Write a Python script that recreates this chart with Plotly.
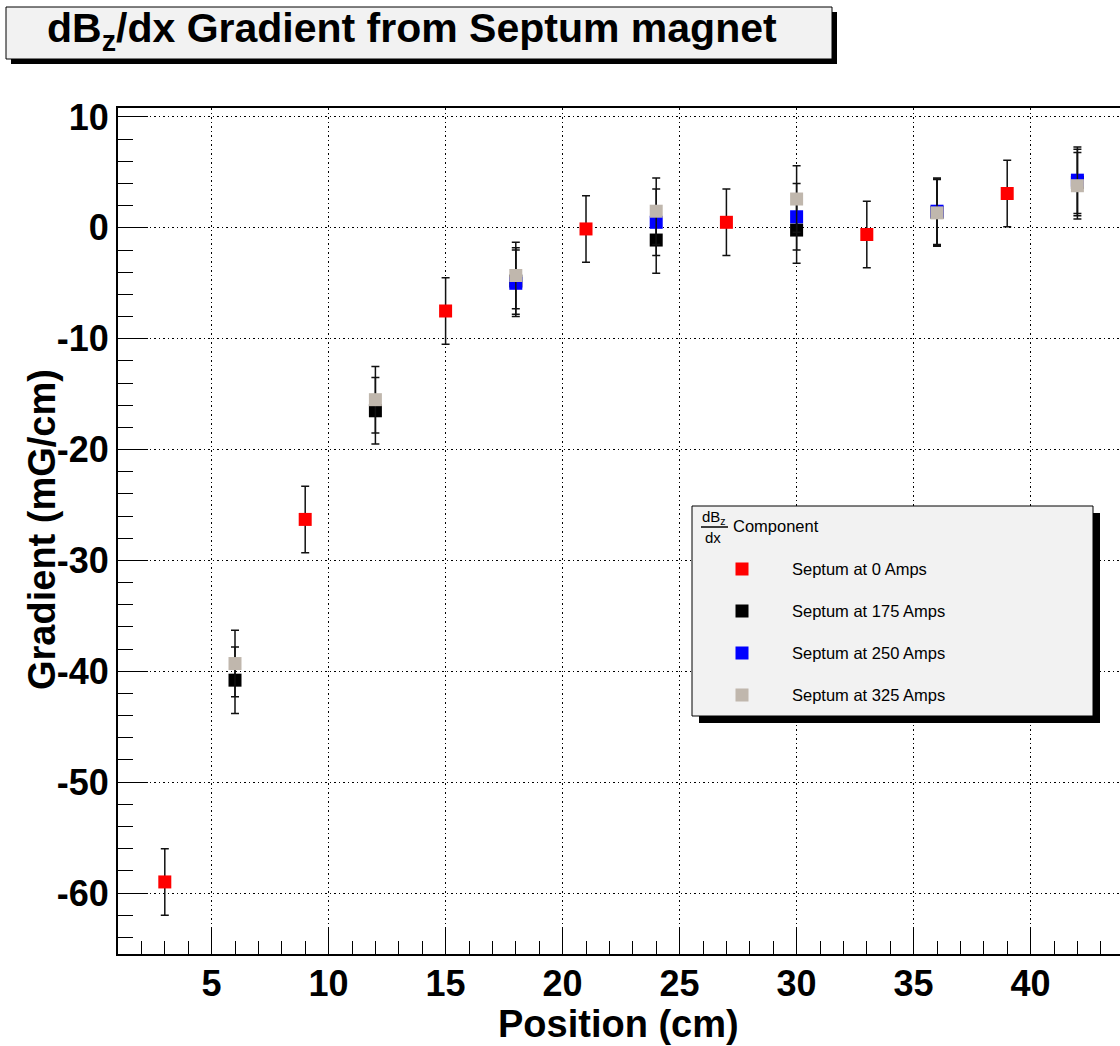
import plotly.graph_objects as go

# ---------------- data ----------------
x_0A = [3, 9, 15, 21, 27, 33, 39]
y_0A = [-59.0, -26.3, -7.5, -0.1, 0.5, -0.6, 3.1]
e_0A = [3, 3, 3, 3, 3, 3, 3]

x_175A = [6, 12, 18, 24, 30, 36, 42]
y_175A = [-40.8, -16.5, -4.8, -1.1, -0.2, 1.4, 4.1]
e_175A = [3, 3, 3, 3, 3, 3, 3]

x_250A = [18, 24, 30, 36, 42]
y_250A = [-5.0, 0.5, 1.0, 1.5, 4.3]
e_250A = [3, 3, 3, 3, 3]

x_325A = [6, 12, 18, 24, 30, 36, 42]
y_325A = [-39.3, -15.5, -4.3, 1.5, 2.6, 1.35, 3.8]
e_325A = [3, 3, 3, 3, 3, 3, 3]

series_names = ["Septum at 0 Amps", "Septum at 175 Amps",
                "Septum at 250 Amps", "Septum at 325 Amps"]
series_colors = ["#ff0000", "#000000", "#0000ff", "#c0b7ad"]

x_tick_vals = [5, 10, 15, 20, 25, 30, 35, 40]
x_tick_labels = ["5", "10", "15", "20", "25", "30", "35", "40"]
y_tick_vals = [-60, -50, -40, -30, -20, -10, 0, 10]
y_tick_labels = ["-60", "-50", "-40", "-30", "-20", "-10", "0", "10"]

title_text = "<b>dB<sub>z</sub>/dx Gradient from Septum magnet</b>"
x_title = "<b>Position (cm)</b>"
y_title = "<b>Gradient (mG/cm)</b>"

# ---------------- layout geometry ----------------
W, H = 1120, 1046
L, R, T, B = 118, 0, 108, 92
PW = W - L - R
PH = H - T - B
FONT = "Liberation Sans, Arial, Helvetica, sans-serif"


def px(x):
    return (x - L) / PW


def py(y):
    return (H - B - y) / PH


fig = go.Figure()

data = [(x_0A, y_0A, e_0A), (x_175A, y_175A, e_175A),
        (x_250A, y_250A, e_250A), (x_325A, y_325A, e_325A)]
for (xs, ys, es), name, col in zip(data, series_names, series_colors):
    fig.add_trace(go.Scatter(
        x=xs, y=ys, mode="markers", name=name, showlegend=False,
        marker=dict(symbol="square", size=13, color=col, line=dict(width=0)),
        error_y=dict(type="data", array=es, visible=True, color="#111111",
                     thickness=1.5, width=4),
    ))

axis_common = dict(
    showline=True, linecolor="black", linewidth=2,
    showgrid=True, gridcolor="black", gridwidth=1.2, griddash="1.5px,3px",
    zeroline=False, ticks="inside", tickcolor="black", tickwidth=1.2,
    tickfont=dict(family=FONT, size=36, color="black", weight="bold"),
    automargin=False,
)

fig.update_xaxes(
    range=[1, 43.82], tickmode="array", tickvals=x_tick_vals,
    ticktext=x_tick_labels, ticklen=26, mirror=True, ticklabelstandoff=-3,
    minor=dict(dtick=1, tick0=0, ticklen=13, ticks="inside",
               tickcolor="black", tickwidth=1.2, showgrid=False),
    **axis_common,
)
fig.update_yaxes(
    range=[-65.5, 10.81], tickmode="array", tickvals=y_tick_vals,
    ticktext=y_tick_labels, ticklen=30,
    minor=dict(dtick=2, tick0=0, ticklen=15, ticks="inside",
               tickcolor="black", tickwidth=1.2, showgrid=False),
    **axis_common,
)

shapes = []
annotations = []

# title box with shadow
shapes.append(dict(type="rect", xref="paper", yref="paper",
                   x0=px(11), x1=px(837), y0=py(12), y1=py(64),
                   fillcolor="black", line=dict(width=0), layer="above"))
shapes.append(dict(type="rect", xref="paper", yref="paper",
                   x0=px(6), x1=px(832), y0=py(7), y1=py(59),
                   fillcolor="#f2f2f2", line=dict(color="black", width=1),
                   layer="above"))
annotations.append(dict(xref="paper", yref="paper", x=px(412), y=py(31),
                        text=title_text, showarrow=False,
                        xanchor="center", yanchor="middle",
                        font=dict(family=FONT, size=41, color="black")))

# axis titles
annotations.append(dict(xref="paper", yref="paper", x=px(618), y=py(1024),
                        text=x_title, showarrow=False,
                        xanchor="center", yanchor="middle",
                        font=dict(family=FONT, size=38, color="black")))
annotations.append(dict(xref="paper", yref="paper", x=px(42), y=py(530),
                        text=y_title, showarrow=False, textangle=-90,
                        xanchor="center", yanchor="middle",
                        font=dict(family=FONT, size=38, color="black")))

# legend box with shadow
shapes.append(dict(type="rect", xref="paper", yref="paper",
                   x0=px(699), x1=px(1100), y0=py(513), y1=py(723),
                   fillcolor="black", line=dict(width=0), layer="above"))
shapes.append(dict(type="rect", xref="paper", yref="paper",
                   x0=px(692), x1=px(1093), y0=py(506), y1=py(716),
                   fillcolor="#f2f2f2", line=dict(color="black", width=1),
                   layer="above"))
# legend header: fraction dBz/dx Component
annotations.append(dict(xref="paper", yref="paper", x=px(714), y=py(517),
                        text="dB<sub>z</sub>", showarrow=False,
                        xanchor="center", yanchor="middle",
                        font=dict(family=FONT, size=15, color="black")))
annotations.append(dict(xref="paper", yref="paper", x=px(713), y=py(537),
                        text="dx", showarrow=False,
                        xanchor="center", yanchor="middle",
                        font=dict(family=FONT, size=15, color="black")))
shapes.append(dict(type="line", xref="paper", yref="paper",
                   x0=px(701), x1=px(728), y0=py(527), y1=py(527),
                   line=dict(color="black", width=1.5), layer="above"))
annotations.append(dict(xref="paper", yref="paper", x=px(731), y=py(526),
                        text="Component", showarrow=False,
                        xanchor="left", yanchor="middle",
                        font=dict(family=FONT, size=16.5, color="black")))

entry_y = [569, 611, 653, 695]
for name, col, ey in zip(series_names, series_colors, entry_y):
    shapes.append(dict(type="rect", xref="paper", yref="paper",
                       x0=px(735.5), x1=px(748.5), y0=py(ey - 6.5),
                       y1=py(ey + 6.5), fillcolor=col, line=dict(width=0),
                       layer="above"))
    annotations.append(dict(xref="paper", yref="paper", x=px(790), y=py(ey),
                            text=name, showarrow=False,
                            xanchor="left", yanchor="middle",
                            font=dict(family=FONT, size=16.5, color="black")))

fig.update_layout(
    width=W, height=H,
    margin=dict(l=L, r=R, t=T, b=B, pad=0),
    paper_bgcolor="white", plot_bgcolor="white",
    showlegend=False,
    shapes=shapes, annotations=annotations,
    font=dict(family=FONT, color="black"),
)

fig.write_html("out.html",
               config={"displayModeBar": False},
               post_script="document.body.style.margin='0';"
                           "document.body.style.overflow='hidden';")
